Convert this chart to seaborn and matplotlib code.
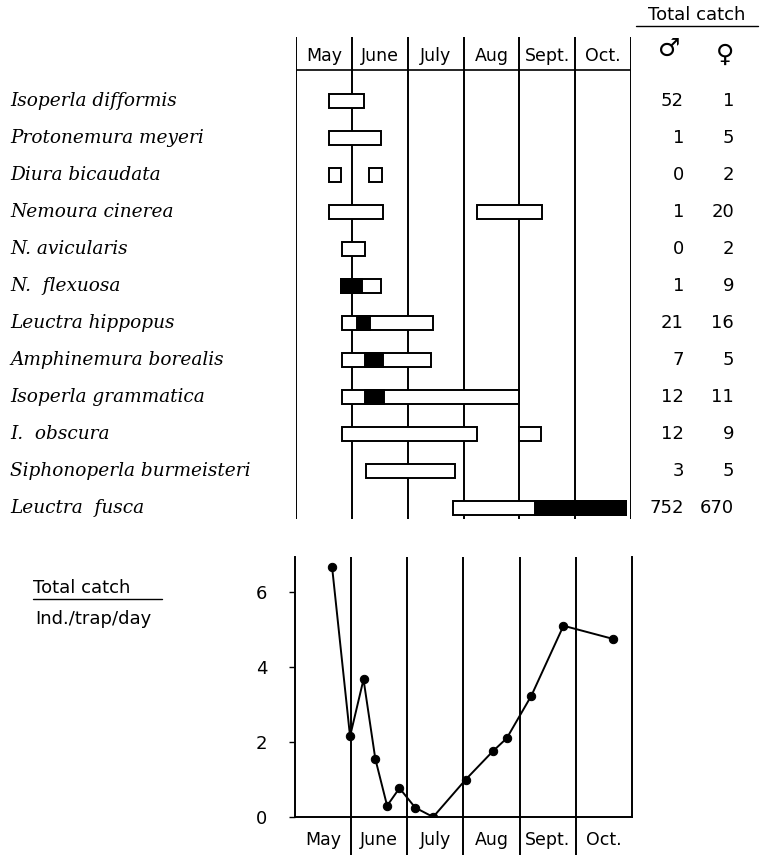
import numpy as np
import matplotlib
matplotlib.use("Agg")
import matplotlib.pyplot as plt
import matplotlib.transforms as mtransforms
from matplotlib.lines import Line2D
import seaborn as sns

# species flight periods (months counted from 1 May, one unit per month)
species = ["Isoperla difformis", "Protonemura meyeri", "Diura bicaudata",
           "Nemoura cinerea", "N. avicularis", "N.  flexuosa",
           "Leuctra hippopus", "Amphinemura borealis", "Isoperla grammatica",
           "I.  obscura", "Siphonoperla burmeisteri", "Leuctra  fusca"]
male_catch = [52, 1, 0, 1, 0, 1, 21, 7, 12, 12, 3, 752]
female_catch = [1, 5, 2, 20, 2, 9, 16, 5, 11, 9, 5, 670]
months = ["May", "June", "July", "Aug", "Sept.", "Oct."]

span_row = [0, 1, 2, 2, 3, 3, 4, 5, 6, 7, 8, 9, 9, 10, 11]
span_start = [0.59, 0.59, 0.59, 1.30, 0.59, 3.24, 0.83, 0.81, 0.83, 0.83, 0.83, 0.83, 4.00, 1.26, 2.82]
span_end = [1.21, 1.53, 0.81, 1.54, 1.56, 4.40, 1.23, 1.53, 2.45, 2.42, 4.00, 3.24, 4.38, 2.85, 5.91]

# main emergence (black part of the bars)
peak_row = [5, 6, 7, 8, 11]
peak_start = [0.81, 1.09, 1.23, 1.23, 4.28]
peak_end = [1.19, 1.33, 1.56, 1.58, 5.91]

# total catch, individuals per trap per day
catch_month = [0.66, 0.98, 1.22, 1.43, 1.64, 1.86, 2.14, 2.46, 3.04, 3.52, 3.77, 4.21, 4.78, 5.66]
catch_value = [6.67, 2.15, 3.67, 1.55, 0.3, 0.77, 0.25, 0.0, 1.0, 1.75, 2.1, 3.24, 5.1, 4.75]

sns.set_style("white")
plt.rcParams["font.family"] = ["DejaVu Sans"]
plt.rcParams["text.color"] = "black"
plt.rcParams["xtick.color"] = "black"
plt.rcParams["ytick.color"] = "black"

W, H = 760, 859
fig = plt.figure(figsize=(W / 100, H / 100), dpi=100)


def rect(x0, y0, x1, y1):
    return [x0 / W, 1 - y1 / H, (x1 - x0) / W, (y1 - y0) / H]


def row(p):
    # pixel row -> row index in top panel
    return (p - 101) / 37.0


# ---- top panel: flight periods
ax = fig.add_axes(rect(296, 37, 631, 527))
ax.set_xlim(0, 6)
ax.set_ylim(row(527), row(37))
ax.axis("off")

ax.vlines(range(7), row(519), row(37), color="black", lw=1.4)
ax.hlines(row(70), 0, 6, color="black", lw=1.2)
for i, m in enumerate(months):
    ax.text(i + 0.5, row(56), m, ha="center", va="center", fontsize=12.5)

ax.barh(span_row, np.subtract(span_end, span_start), left=span_start,
        height=0.4, color="white", edgecolor="black", lw=1.4, zorder=3)
ax.barh(peak_row, np.subtract(peak_end, peak_start), left=peak_start,
        height=0.4, color="black", edgecolor="black", lw=1.4, zorder=4)

tr = mtransforms.blended_transform_factory(fig.transFigure, ax.transData)
for i, name in enumerate(species):
    fig.text(10 / W, i, name, transform=tr, ha="left", va="center",
             fontsize=13.3, family="DejaVu Serif", style="italic")
    fig.text(684 / W, i, str(male_catch[i]), transform=tr, ha="right",
             va="center", fontsize=13)
    fig.text(734 / W, i, str(female_catch[i]), transform=tr, ha="right",
             va="center", fontsize=13)

fig.text(697 / W, 1 - 15 / H, "Total catch", ha="center", va="center", fontsize=13)
fig.add_artist(Line2D([636 / W, 758 / W], [1 - 26 / H] * 2, color="black", lw=1.0))
fig.text(669 / W, 1 - 49 / H, "\u2642", ha="center", va="center", fontsize=18)
fig.text(725 / W, 1 - 55 / H, "\u2640", ha="center", va="center", fontsize=18)

# ---- bottom panel: total catch
ax2 = fig.add_axes(rect(295, 557, 632, 817))
sns.lineplot(x=catch_month, y=catch_value, ax=ax2, color="black", lw=1.4,
             marker="o", markersize=6, markeredgecolor="black", zorder=3)
ax2.set_xlim(0, 6)
ax2.set_ylim(0, 260 / 37.5)
ax2.vlines(range(1, 6), -38 / 37.5, 260 / 37.5, color="black", lw=1.4, clip_on=False)
for s in ["left", "bottom", "right"]:
    ax2.spines[s].set_color("black")
    ax2.spines[s].set_linewidth(1.4)
ax2.spines["top"].set_visible(False)
ax2.set_yticks([0, 2, 4, 6])
ax2.set_xticks([0.5 + i for i in range(6)])
ax2.set_xticklabels(months)
ax2.tick_params(axis="x", length=0, pad=10, labelsize=12.5)
ax2.tick_params(axis="y", direction="out", length=4, width=1, pad=16,
                labelsize=13, left=True)

fig.text(33 / W, 1 - 588 / H, "Total catch", ha="left", va="center", fontsize=13)
fig.add_artist(Line2D([33 / W, 162 / W], [1 - 599 / H] * 2, color="black", lw=1.0))
fig.text(35 / W, 1 - 619 / H, "Ind./trap/day", ha="left", va="center", fontsize=13)

fig.savefig("out.png", dpi=100)
